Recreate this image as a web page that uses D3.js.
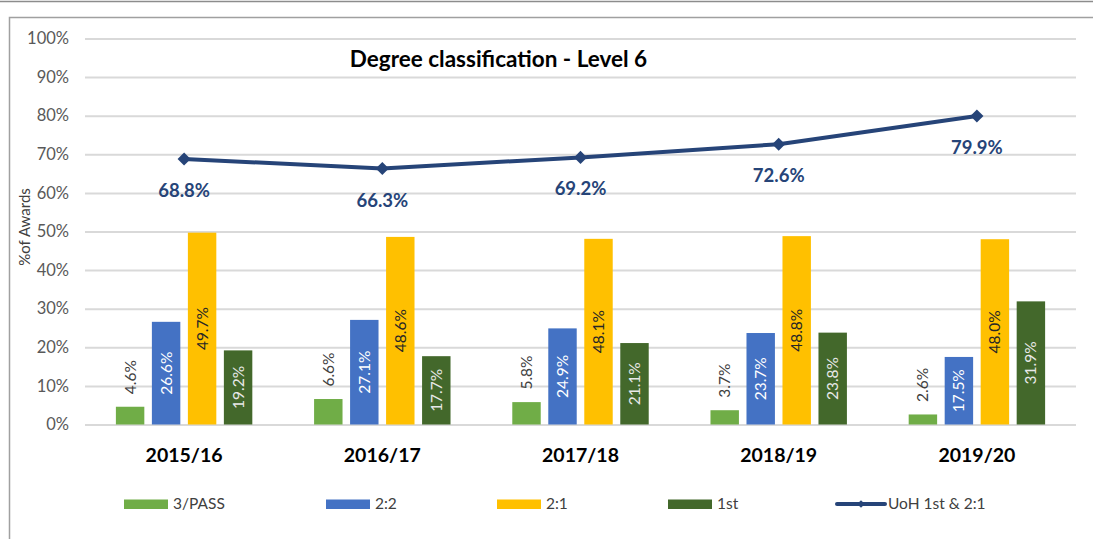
<!DOCTYPE html>
<html>
<head>
<meta charset="utf-8">
<script src="https://cdn.jsdelivr.net/npm/d3@7"></script>
<style>
  html, body { margin: 0; padding: 0; background: #fff; }
  svg { display: block; font-family: Lato, "Open Sans", sans-serif; }
</style>
</head>
<body>
<svg id="chart" width="1093" height="539"></svg>
<script>
// ---- data ----
const years = ["2015/16", "2016/17", "2017/18", "2018/19", "2019/20"];
const seriesNames = ["3/PASS", "2:2", "2:1", "1st"];
const pass = [4.6, 6.6, 5.8, 3.7, 2.6];
const twoTwo = [26.6, 27.1, 24.9, 23.7, 17.5];
const twoOne = [49.7, 48.6, 48.1, 48.8, 48.0];
const first = [19.2, 17.7, 21.1, 23.8, 31.9];
const uohFirstTwoOne = [68.8, 66.3, 69.2, 72.6, 79.9];
const lineName = "UoH 1st & 2:1";
const yTicks = [0, 10, 20, 30, 40, 50, 60, 70, 80, 90, 100];
const titleText = "Degree classification - Level 6";
const yAxisTitle = "%of Awards";

// ---- styles ----
const barColors = ["#70AD47", "#4472C4", "#FFC000", "#43682B"];
const labelColors = ["#404040", "#ffffff", "#262626", "#e8e8e8"];
const lineColor = "#264478";
const seriesValues = [pass, twoTwo, twoOne, first];

const svg = d3.select("#chart");
svg.append("rect").attr("width", 1093).attr("height", 539).attr("fill", "#fff");

// frames
svg.append("line").attr("x1", 0).attr("x2", 1093).attr("y1", 1.5).attr("y2", 1.5)
  .attr("stroke", "#8c8c8c").attr("stroke-width", 1.5);
svg.append("path").attr("d", "M9.5,539V17.5H1093").attr("fill", "none")
  .attr("stroke", "#a0a0a0").attr("stroke-width", 1.5);

const plot = { left: 85, right: 1076, top: 38.5, bottom: 424.5 };

const y = d3.scaleLinear().domain([0, 100]).range([plot.bottom, plot.top]);
const x0 = d3.scaleBand().domain(years).range([plot.left, plot.right]).paddingInner(0).paddingOuter(0);
const x1 = d3.scaleBand().domain(seriesNames).range([0, x0.bandwidth()])
  .paddingInner(0.21).paddingOuter(0.858);

// gridlines + y ticks
const yAxis = d3.axisLeft(y).tickValues(yTicks).tickFormat(d => d + "%")
  .tickSize(-(plot.right - plot.left)).tickPadding(16);
const gy = svg.append("g").attr("transform", `translate(${plot.left},0)`).call(yAxis);
gy.select(".domain").remove();
gy.selectAll(".tick line").attr("stroke", "#d9d9d9").attr("stroke-width", 2);
gy.selectAll(".tick text").attr("fill", "#595959").style("font-size", "16.5px")
  .style("font-family", "Lato, sans-serif");

// title box
svg.append("rect").attr("x", 340).attr("y", 40).attr("width", 317).attr("height", 36).attr("fill", "#fff");
svg.append("text").attr("x", 498.5).attr("y", 67).attr("text-anchor", "middle")
  .style("font-size", "22.5px").style("font-weight", "bold").attr("fill", "#000")
  .text(titleText);

// y axis title
svg.append("text").attr("transform", "translate(30,227) rotate(-90)")
  .attr("text-anchor", "middle").attr("fill", "#404040").style("font-size", "15px")
  .text(yAxisTitle);

// bars
const barData = [];
years.forEach((yr, i) => {
  seriesNames.forEach((s, j) => {
    barData.push({ year: yr, series: s, idx: j, value: seriesValues[j][i] });
  });
});

const bars = svg.append("g");
bars.selectAll("rect").data(barData).join("rect")
  .attr("x", d => x0(d.year) + x1(d.series))
  .attr("y", d => y(d.value))
  .attr("width", x1.bandwidth())
  .attr("height", d => y(0) - y(d.value))
  .attr("fill", d => barColors[d.idx]);

// bar labels
bars.selectAll("text").data(barData).join("text")
  .attr("transform", d => {
    const cx = x0(d.year) + x1(d.series) + x1.bandwidth() / 2;
    const cy = d.idx === 0 ? y(d.value) - 12.5 : (y(d.value) + y(0)) / 2;
    return `translate(${cx},${cy}) rotate(-90)`;
  })
  .attr("dy", "0.35em")
  .attr("text-anchor", d => d.idx === 0 ? "start" : "middle")
  .attr("fill", d => labelColors[d.idx])
  .style("font-size", "15.5px")
  .text(d => d.value.toFixed(1) + "%");

// year labels
svg.append("g").selectAll("text").data(years).join("text")
  .attr("x", d => x0(d) + x0.bandwidth() / 2)
  .attr("y", 462)
  .attr("text-anchor", "middle")
  .attr("fill", "#000")
  .style("font-size", "19.5px").style("font-weight", "bold")
  .text(d => d);

// line
const cxOf = d => x0(d) + x0.bandwidth() / 2;
const line = d3.line().x((d, i) => cxOf(years[i])).y(d => y(d));
svg.append("path").datum(uohFirstTwoOne).attr("d", line)
  .attr("fill", "none").attr("stroke", lineColor).attr("stroke-width", 4)
  .attr("stroke-linejoin", "round");
const diamond = d3.symbol().type(d3.symbolSquare).size(85);
svg.append("g").selectAll("path").data(uohFirstTwoOne).join("path")
  .attr("d", diamond)
  .attr("transform", (d, i) => `translate(${cxOf(years[i])},${y(d)}) rotate(45)`)
  .attr("fill", lineColor);
svg.append("g").selectAll("text").data(uohFirstTwoOne).join("text")
  .attr("x", (d, i) => cxOf(years[i]))
  .attr("y", d => y(d) + 38)
  .attr("text-anchor", "middle")
  .attr("fill", lineColor)
  .style("font-size", "18.5px").style("font-weight", "bold")
  .text(d => d.toFixed(1) + "%");

// legend
const legendX = [124, 326, 497, 668, 837];
const legendY = 504;
const lg = svg.append("g");
seriesNames.forEach((s, j) => {
  lg.append("rect").attr("x", legendX[j]).attr("y", legendY - 4.5).attr("width", 44).attr("height", 9.5)
    .attr("fill", barColors[j]);
  lg.append("text").attr("x", legendX[j] + 49).attr("y", legendY).attr("dy", "0.35em")
    .attr("fill", "#404040").style("font-size", "15.5px").text(s);
});
lg.append("line").attr("x1", legendX[4]).attr("x2", legendX[4] + 48)
  .attr("y1", legendY).attr("y2", legendY)
  .attr("stroke", lineColor).attr("stroke-width", 4).attr("stroke-linecap", "round");
lg.append("path").attr("d", d3.symbol().type(d3.symbolSquare).size(30))
  .attr("transform", `translate(${legendX[4] + 24},${legendY}) rotate(45)`).attr("fill", lineColor);
lg.append("text").attr("x", legendX[4] + 51).attr("y", legendY).attr("dy", "0.35em")
  .attr("fill", "#404040").style("font-size", "15.5px").text(lineName);
</script>
</body>
</html>
